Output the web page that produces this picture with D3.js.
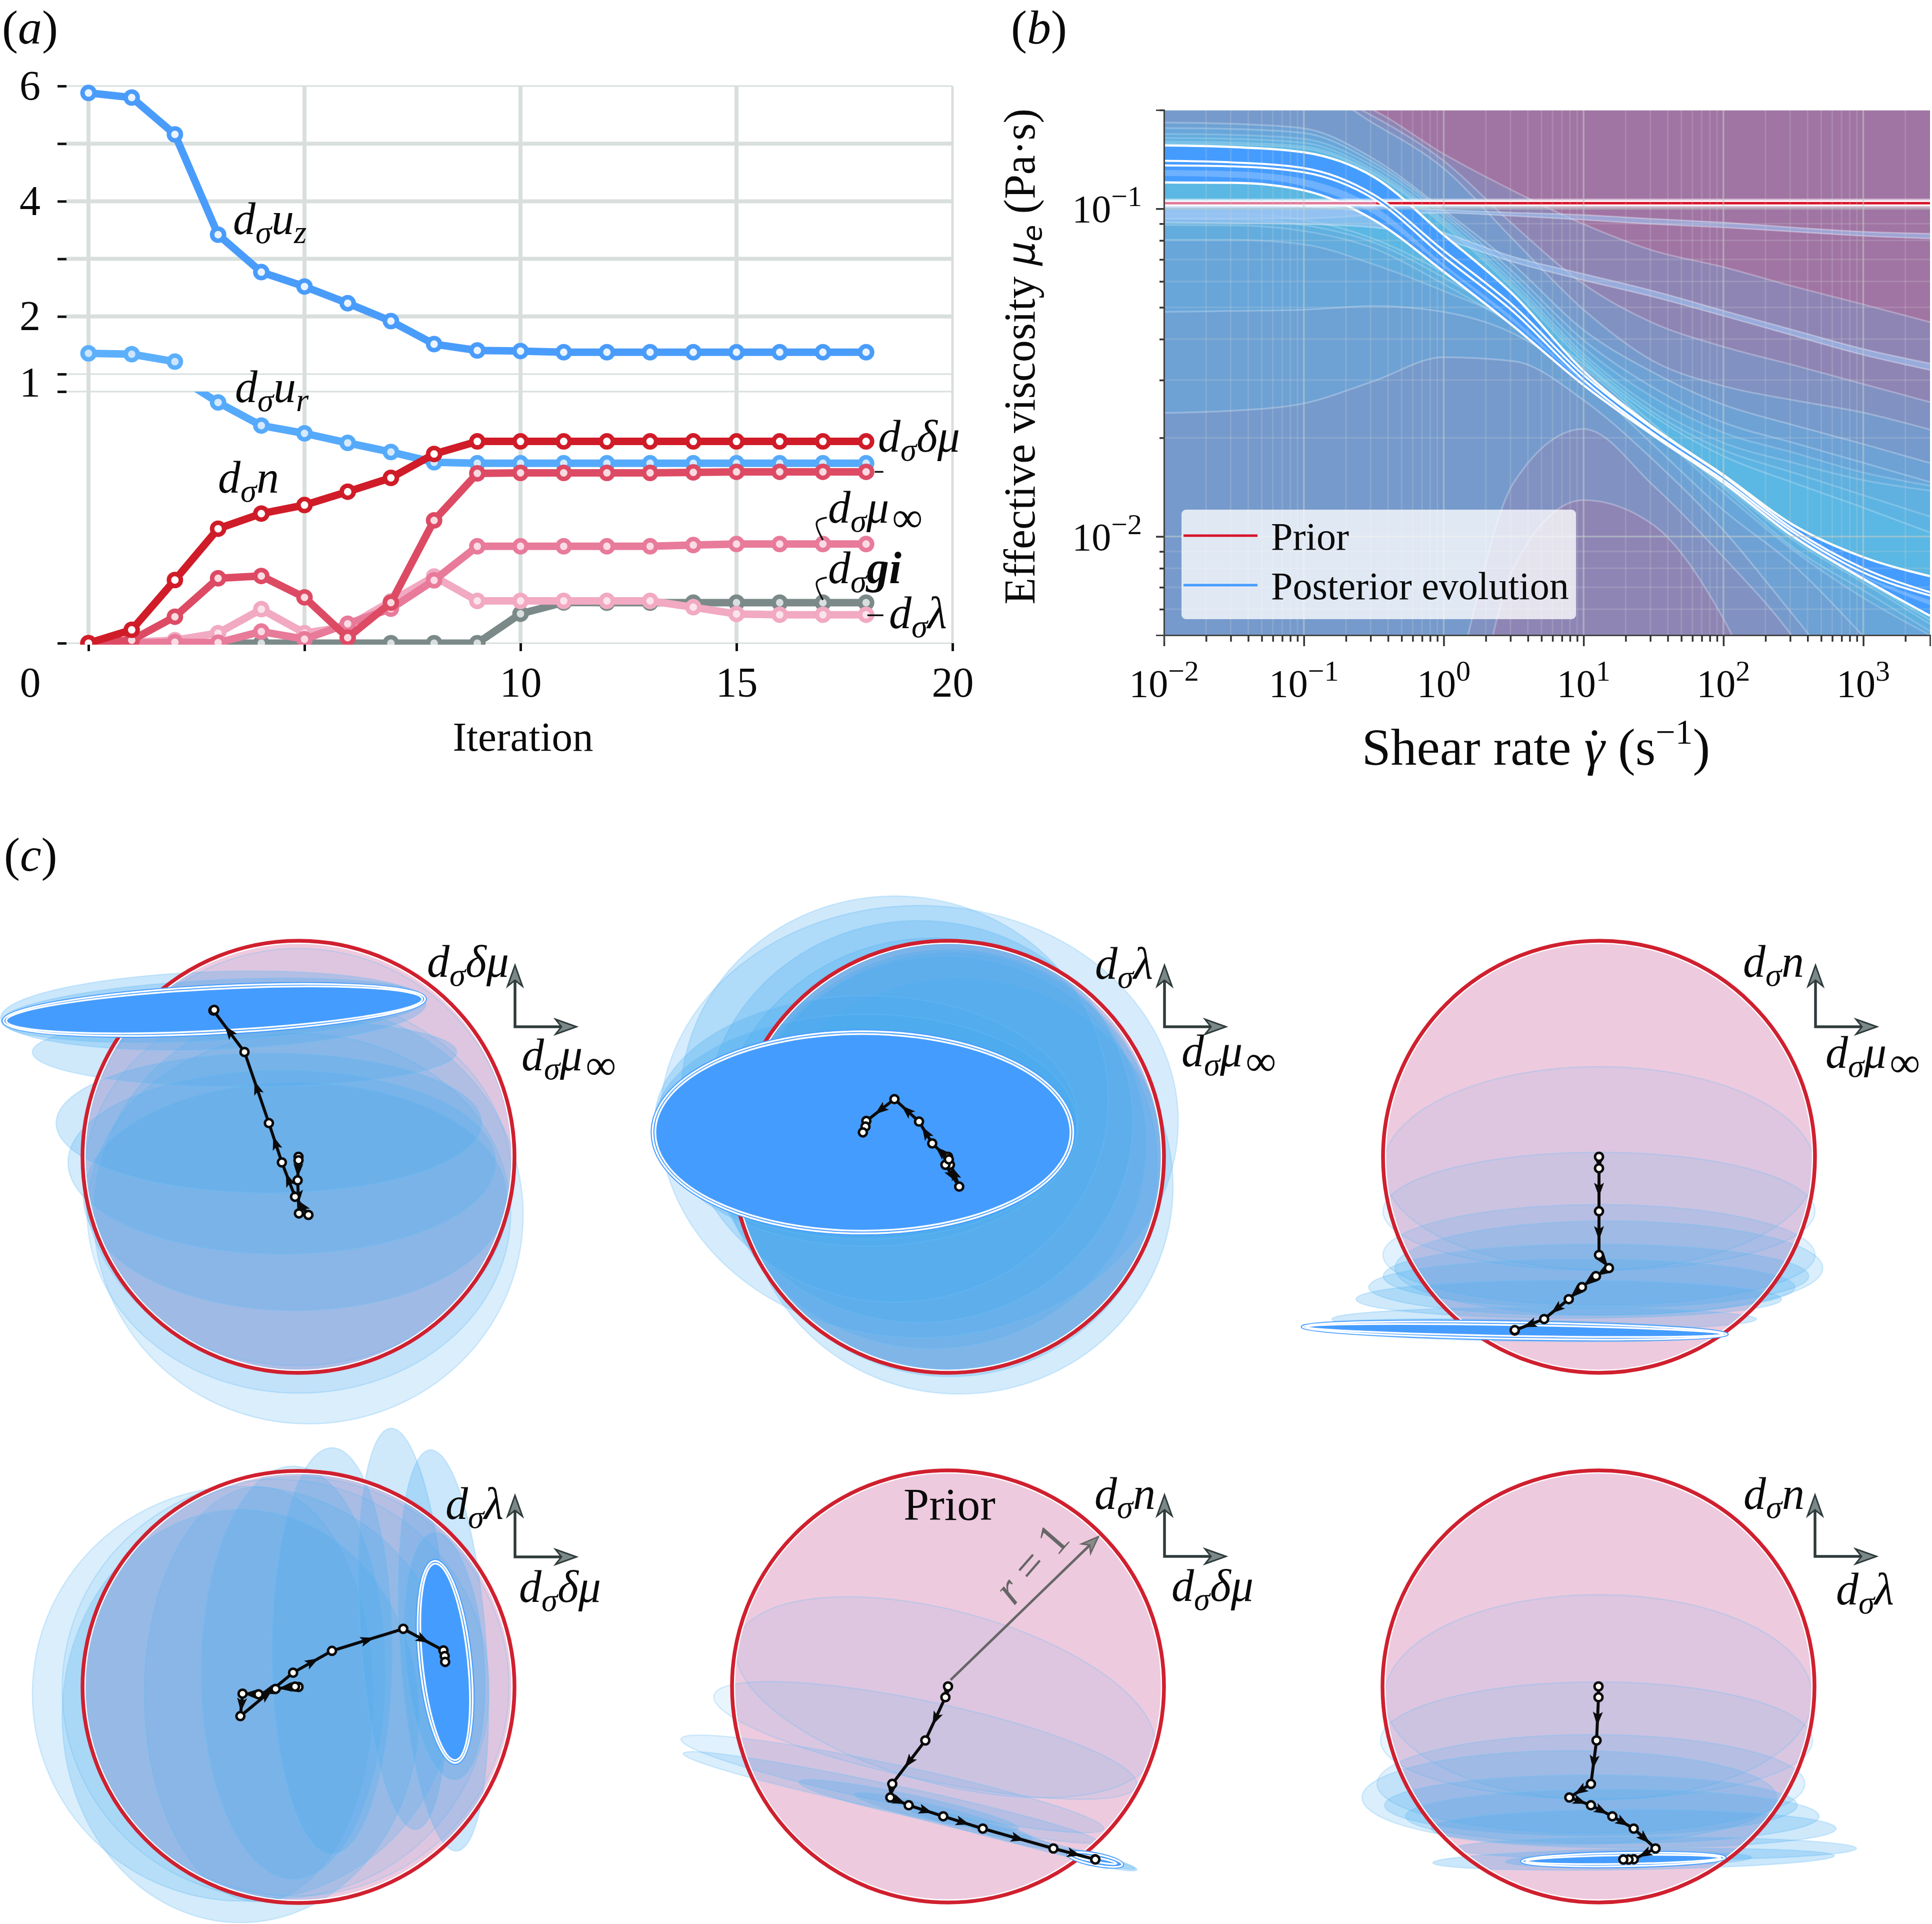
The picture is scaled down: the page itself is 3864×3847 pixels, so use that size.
<!DOCTYPE html>
<html><head><meta charset="utf-8">
<script src="https://cdn.jsdelivr.net/npm/d3@7"></script>
<style>html,body{margin:0;background:#fff}svg{display:block}text{font-family:"Liberation Serif",serif;fill:#0a0a0a}</style>
</head><body><svg id="c" width="3864" height="3847"></svg>
<script>
// ---------- Panel (a) data ----------
const iterations = d3.range(19);
const uz = [5.88,5.80,5.16,3.42,2.77,2.52,2.23,1.92,1.52,1.41,1.40,1.38,1.38,1.38,1.38,1.38,1.38,1.38,1.38];
const urUpper = [1.36,1.345,1.216];
const urLower = [null,null,1.065,0.957,0.865,0.834,0.796,0.760,0.719,0.715,0.715,0.715,0.715,0.715,0.715,0.715,0.715,0.715,0.715];
const seriesN = [0,0.053,0.251,0.455,0.515,0.549,0.602,0.657,0.752,0.802,0.802,0.802,0.802,0.802,0.802,0.802,0.802,0.802,0.802];
const seriesDelta = [0,0.012,0.105,0.258,0.267,0.182,0.022,0.161,0.488,0.675,0.677,0.677,0.677,0.677,0.679,0.681,0.681,0.681,0.681];
const seriesInf = [0,0,0.004,0.002,0.046,0.016,0.077,0.137,0.25,0.385,0.385,0.385,0.385,0.385,0.39,0.394,0.394,0.394,0.394];
const seriesLambda = [0,0.004,0.012,0.04,0.135,0.04,0.067,0.166,0.265,0.168,0.168,0.168,0.168,0.168,0.143,0.116,0.113,0.113,0.113];
const seriesGi = [0,0,0,0,0,0,0,0,0,0,0.117,0.162,0.161,0.161,0.161,0.161,0.161,0.161,0.161];
const xTicksA = [0,5,10,15,20];
const upperTicks = [6,5,4,3,2,1];
const connectorInf = [[17.09,0.499],[16.76,0.489],[17.0,0.41]];
const connectorGi = [[17.09,0.261],[16.76,0.251],[17.0,0.172]];
const dashN = [[18.2,0.681],[18.4,0.681]];
const dashLambda = [[18.03,0.111],[18.4,0.111]];

// ---------- Panel (b) data: log10(viscosity) read at each shear rate ----------
const gammaGrid = [0.01,0.0316,0.1,0.316,1,3.16,10,31.6,100,316,1000,3000];
const priorMu = 0.104;
const deep = [-2.5,-2.5,-2.5,-2.5,-2.5,-2.5,-2.5,-2.5,-2.5,-2.5,-2.5,-2.5];
const curveA = [-.615,-.615,-.625,-.700,-.833,-.946,-1.047,-1.128,-1.178,-1.237,-1.292,-1.346];
const curveB = [-.615,-.615,-.625,-.719,-.854,-1.050,-1.230,-1.349,-1.421,-1.477,-1.535,-1.590];
const curveC = [-.615,-.615,-.625,-.740,-.877,-1.095,-1.308,-1.465,-1.541,-1.584,-1.622,-1.674];
const bumpLow = [-3.72,-3.568,-3.415,-3.262,-2.957,-2.095,-1.889,-1.965,-2.251,-2.728,-3.11,-3.415];
const bumpHigh = [-3.72,-3.568,-3.415,-3.11,-2.576,-1.836,-1.672,-1.845,-2.063,-2.309,-2.652,-2.957];
const u4 = [-.737,-.741,-.755,-.848,-1.004,-1.172,-1.370,-1.500,-1.598,-1.660,-1.718,-1.776];
const l4 = [-1.623,-1.616,-1.594,-1.526,-1.453,-1.465,-1.584,-1.767,-1.981,-2.240,-2.499,-2.652];
const u5 = [-.754,-.757,-.769,-.859,-1.012,-1.195,-1.401,-1.546,-1.652,-1.714,-1.775,-1.834];
const l5 = [-1.315,-1.312,-1.308,-1.297,-1.315,-1.381,-1.523,-1.721,-1.920,-2.087,-2.304,-2.530];
const u6 = [-.772,-.775,-.787,-.870,-1.022,-1.210,-1.424,-1.576,-1.683,-1.744,-1.805,-1.845];
const l6 = [-1.095,-1.095,-1.109,-1.170,-1.251,-1.343,-1.477,-1.675,-1.866,-2.042,-2.187,-2.301];
const u7 = [-.784,-.787,-.799,-.882,-1.034,-1.225,-1.443,-1.607,-1.714,-1.775,-1.828,-1.860];
const l7 = [-1.050,-1.051,-1.068,-1.121,-1.230,-1.355,-1.500,-1.675,-1.851,-2.034,-2.164,-2.289];
const u8 = [-.795,-.798,-.810,-.889,-1.042,-1.236,-1.454,-1.622,-1.736,-1.805,-1.874,-1.939];
const l8 = [-1.031,-1.033,-1.050,-1.103,-1.210,-1.340,-1.485,-1.668,-1.843,-2.011,-2.141,-2.267];
const u9 = [-.801,-.804,-.816,-.894,-1.050,-1.245,-1.465,-1.633,-1.755,-1.836,-1.912,-1.988];
const l9 = [-1.015,-1.016,-1.034,-1.092,-1.195,-1.327,-1.474,-1.657,-1.836,-2.003,-2.133,-2.255];
const strip1Up = [-.992,-.992,-.992,-.993,-1.004,-1.012,-1.019,-1.031,-1.042,-1.057,-1.070,-1.076];
const strip1Lo = [-1.030,-1.030,-1.030,-1.019,-1.013,-1.022,-1.034,-1.047,-1.057,-1.070,-1.083,-1.091];
const strip2Up = [-.989,-.989,-.993,-1.012,-1.073,-1.147,-1.199,-1.251,-1.311,-1.370,-1.428,-1.472];
const strip2Lo = [-1.042,-1.044,-1.047,-1.057,-1.095,-1.163,-1.218,-1.269,-1.327,-1.387,-1.446,-1.492];
const final1 = [-.807,-.812,-.828,-.903,-1.080,-1.263,-1.495,-1.668,-1.812,-1.965,-2.063,-2.121];
const final2 = [-.854,-.859,-.876,-.957,-1.128,-1.297,-1.507,-1.672,-1.816,-1.978,-2.097,-2.170];
const final3 = [-.868,-.871,-.889,-.970,-1.147,-1.315,-1.522,-1.686,-1.828,-1.987,-2.110,-2.180];
const final4 = [-.920,-.921,-.944,-1.034,-1.192,-1.359,-1.538,-1.692,-1.836,-2.000,-2.129,-2.242];
const streakUp = [-.882,-.886,-.909,-.992,-1.169,-1.334,-1.526,-1.687,-1.830,-1.991,-2.118,-2.194];
const streakLo = [-.900,-.905,-.931,-1.016,-1.179,-1.347,-1.530,-1.690,-1.834,-1.994,-2.124,-2.209];
const majorX = [0.01,0.1,1,10,100,1000];
const majorExpX = ["−2","−1","0","1","2","3"];
const majorY = [0.1,0.01];
const majorExpY = ["−1","−2"];

// ---------- Panel (c) data: sigma-scaled paths and ellipses [path index, rx, ry, tilt] ----------
const path1 = [[0,0],[0,-.016],[-.004,-.109],[.002,-.262],[.046,-.269],[-.016,-.185],[-.077,-.026],[-.137,.156],[-.25,.485],[-.394,.677],[-.392,.678],[-.39,.68]];
const ell1 = [[1,.99,.98,0],[2,.99,.857,0],[3,.98,.832,0],[4,.994,.967,0],[5,.98,.526,0],[6,.99,.424,0],[7,.985,.323,0],[8,.982,.161,0],[9,.985,.18,-2],[10,.985,.14,-3]];
const fin1 = [[11,.98,.112,-3],[11,.964,.096,-3]];
const path2 = [[0,0],[.009,-.037],[-.012,-.037],[.052,-.138],[.004,-.012],[-.073,.062],[-.134,.163],[-.248,.267],[-.378,.166],[-.382,.14],[-.394,.113]];
const ell2 = [[1,.98,.98,0],[2,.98,.96,0],[3,.99,.96,0],[4,.98,.97,0],[5,.99,.95,0],[6,1.2,1.0,0],[6,.99,.93,0],[7,.99,.94,0],[8,.98,.58,0],[9,.98,.52,0]];
const fin2 = [[10,.977,.471,0],[10,.961,.455,0]];
const path3 = [[0,0],[0,-.053],[0,-.252],[0,-.454],[.046,-.515],[-.014,-.552],[-.079,-.603],[-.14,-.659],[-.254,-.751],[-.39,-.803],[-.39,-.804],[-.39,-.802]];
const ell3 = [[1,1,.47,0],[2,1,.273,0],[3,1,.233,0],[4,.99,.218,0],[5,.985,.148,0],[6,.987,.13,0],[7,.985,.088,0],[8,.983,.055,0],[9,.985,.05,1]];
const fin3 = [[10,.985,.041,1],[10,.965,.025,1]];
const path4 = [[0,0],[-.016,.002],[-.106,-.009],[-.185,-.034],[-.259,-.031],[-.269,-.135],[-.025,.066],[.155,.167],[.485,.269],[.671,.169],[.677,.143],[.679,.116]];
const ell4 = [[1,.99,.97,0],[2,.988,.97,0],[3,.528,.96,0],[4,.973,.96,0],[5,.825,.956,0],[6,.426,.956,0],[7,.278,.94,0],[8,.2,.93,-3.6],[9,.2,.93,-3.8],[10,.182,.574,-5]];
const fin4 = [[11,.121,.473,-6],[11,.105,.457,-6]];
const path5 = [[0,0],[-.012,-.05],[-.105,-.25],[-.258,-.451],[-.267,-.514],[-.182,-.55],[-.022,-.601],[.161,-.658],[.488,-.75],[.681,-.8],[.682,-.801]];
const ell5 = [[1,1,.40,15],[2,1,.18,12],[3,1,.09,12],[4,.98,.06,12],[5,.52,.05,12],[6,.424,.04,14],[7,.36,.03,15],[8,.39,.022,14],[9,.2,.024,14]];
const fin5 = [[10,.13,.028,11],[10,.1,.01,11]];
const path6 = [[0,0],[0,-.05],[-.009,-.25],[-.035,-.451],[-.135,-.514],[-.035,-.55],[.064,-.601],[.163,-.658],[.264,-.75],[.163,-.8],[.139,-.801],[.115,-.801]];
const ell6 = [[1,.99,.475,0],[2,1,.271,0],[3,.99,.228,0],[4,.96,.217,0],[5,.955,.14,0],[6,.957,.125,0],[7,.937,.089,0],[8,.93,.053,0],[9,.93,.048,-1],[10,.57,.036,-1]];
const fin6 = [[11,.473,.034,-1],[11,.45,.02,-1]];
const radiusArrow = [[.012,.03],[.696,.693]];
const layerAlpha = [.09,.12,.16,.2,.24,.24,.26,.26,.28,.28];
const layerAlphaStrong = [.22,.22,.24,.24,.24,.22,.26,.26,.28,.28];

const svg = d3.select("#c");
const defs = svg.append("defs");
const MS = 90;
function math(g,x,y,tokens,size){
  const t=g.append("text").attr("x",x).attr("y",y).attr("font-size",size).attr("font-style","italic");
  let sub=false; const off=Math.round(size*.2);
  tokens.forEach(tok=>{
    let s=tok, isSub=false, bold=false;
    if(s[0]==="_"){isSub=true;s=s.slice(1);}
    if(s[0]==="*"){bold=true;s=s.slice(1);}
    const ts=t.append("tspan").text(s);
    if(isSub) ts.attr("font-size",size*.72);
    if(bold) ts.attr("font-weight","bold");
    if(s==="∞") ts.attr("font-style","normal").attr("dx",6).attr("font-size",size*.95);
    if(isSub&&!sub) ts.attr("dy",off);
    if(!isSub&&sub) ts.attr("dy",-off);
    sub=isSub;
  });
  return t;
}
function panelTag(x,y,l){
  const t=svg.append("text").attr("x",x).attr("y",y).attr("font-size",96);
  t.append("tspan").text("(");t.append("tspan").attr("font-style","italic").text(l);t.append("tspan").text(")");
}
panelTag(4,87,"a");panelTag(2022,87,"b");panelTag(8,1741,"c");

// ---------- Panel (a) ----------
(function(){
  const g=svg.append("g");
  const x=d3.scaleLinear().domain([0,20]).range([177,1905]);
  const yU=d3.scaleLinear().domain([1,6]).range([748,172]);
  const yL=d3.scaleLinear().domain([0,1]).range([1286,783]);
  defs.append("clipPath").attr("id","cu").append("rect").attr("x",120).attr("y",150).attr("width",1800).attr("height",598);
  defs.append("clipPath").attr("id","cl").append("rect").attr("x",120).attr("y",783).attr("width",1800).attr("height",506);
  const grid="#d8dfdd";
  xTicksA.forEach(v=>g.append("line").attr("x1",x(v)).attr("x2",x(v)).attr("y1",yU(6)).attr("y2",yL(0)).attr("stroke",grid).attr("stroke-width",v===20?5:8));
  upperTicks.forEach(v=>g.append("line").attr("x1",133).attr("x2",x(20)).attr("y1",yU(v)).attr("y2",yU(v)).attr("stroke",grid).attr("stroke-width",(v===1||v===6)?3:8));
  [0,1].forEach(v=>g.append("line").attr("x1",133).attr("x2",x(20)).attr("y1",yL(v)).attr("y2",yL(v)).attr("stroke",grid).attr("stroke-width",3));
  const ax1=g.append("g").attr("transform","translate(133,0)").call(d3.axisLeft(yU).tickValues(upperTicks).tickSize(18).tickFormat(d=>d%2===0||d===1?d:""));
  const ax2=g.append("g").attr("transform","translate(133,0)").call(d3.axisLeft(yL).tickValues([0,1]).tickSize(18).tickFormat(""));
  const ax3=g.append("g").attr("transform","translate(0,1286)").call(d3.axisBottom(x).tickValues(xTicksA).tickSize(16).tickFormat(d=>d===5?"":d));
  [ax1,ax2,ax3].forEach(a=>{a.select(".domain").remove();a.selectAll("line").attr("stroke","#111").attr("stroke-width",5);
    a.selectAll("text").attr("font-size",84).attr("font-family","Liberation Serif").attr("fill","#0a0a0a");});
  ax1.selectAll("text").attr("text-anchor","middle").attr("x",-73).attr("dy",null).attr("y",27);
  ax1.selectAll(".tick").filter(d=>d===1).select("text").attr("y",44);
  ax3.selectAll("text").attr("y",107).attr("dy",null);
  ax3.selectAll(".tick").filter(d=>d===0).select("text").attr("x",-117);
  g.append("text").attr("x",1046).attr("y",1501).attr("text-anchor","middle").attr("font-size",83).text("Iteration");

  const lineU=d3.line().x((d,i)=>x(i)).y(d=>yU(d));
  const lineL=d3.line().defined(d=>d!==null).x((d,i)=>x(i)).y(d=>yL(d));
  function series(vals,scale,gen,col,fill,clip,first){
    const sg=g.append("g").attr("clip-path",`url(#${clip})`);
    sg.append("path").attr("d",gen(vals)).attr("fill","none").attr("stroke",col).attr("stroke-width",15).attr("stroke-linejoin","round");
    sg.selectAll("circle").data(vals.map((v,i)=>[i,v]).filter(d=>d[1]!==null&&d[0]>=(first||0))).join("circle")
      .attr("cx",d=>x(d[0])).attr("cy",d=>scale(d[1])).attr("r",12).attr("fill",fill).attr("stroke",col).attr("stroke-width",9);
  }
  series(uz,yU,lineU,"#4a9cfb","#eaf4ff","cu");
  series(urUpper,yU,lineU,"#5cb0fb","#cde6fe","cu");
  series(urLower,yL,lineL,"#56aafb","#d5eaff","cl",3);
  series(seriesGi,yL,lineL,"#7b8a88","#d9dfde","cl");
  series(seriesLambda,yL,lineL,"#f2a9c2","#fbe4ec","cl");
  series(seriesInf,yL,lineL,"#e87a9a","#fbdbe5","cl");
  series(seriesDelta,yL,lineL,"#dd4a64","#f9dbe1","cl");
  series(seriesN,yL,lineL,"#d01c28","#ffffff","cl");
  const conn=d3.line().x(d=>x(d[0])).y(d=>yL(d[1])).curve(d3.curveBasis);
  [connectorInf,connectorGi,dashN,dashLambda].forEach(c=>g.append("path").attr("d",conn(c)).attr("fill","none").attr("stroke","#111").attr("stroke-width",3.5));
  math(g,466,468,["d","_σ","u","_z"],MS);
  math(g,470,804,["d","_σ","u","_r"],MS);
  math(g,436,985,["d","_σ","n"],MS);
  math(g,1756,903,["d","_σ","δμ"],MS);
  math(g,1656,1045,["d","_σ","μ","_∞"],MS);
  math(g,1656,1166,["d","_σ","*gi"],MS);
  math(g,1778,1256,["d","_σ","λ"],MS);
})();

// ---------- Panel (b) ----------
(function(){
  const g=svg.append("g");
  const x=d3.scaleLog().domain([0.01,3000]).range([2328,3860]);
  const y=d3.scaleLog().domain([0.005,0.2]).range([1270,220]);
  defs.append("clipPath").attr("id","cb").append("rect").attr("x",2328).attr("y",220).attr("width",1532).attr("height",1050);
  const plot=g.append("g").attr("clip-path","url(#cb)");
  plot.append("rect").attr("x",2328).attr("y",220).attr("width",1532).attr("height",1050).attr("fill","#a074a3");
  const pts=a=>a.map((l,i)=>[gammaGrid[i],Math.pow(10,l)]);
  const area=(up,lo)=>d3.area().x((d,i)=>x(gammaGrid[i])).y0((d,i)=>y(Math.pow(10,lo[i]))).y1((d,i)=>y(Math.pow(10,up[i]))).curve(d3.curveMonotoneX)(up);
  const line=a=>d3.line().x(d=>x(d[0])).y(d=>y(d[1])).curve(d3.curveMonotoneX)(pts(a));
  function band(up,lo,fill,op,edge,ew){
    plot.append("path").attr("d",area(up,lo)).attr("fill",fill).attr("fill-opacity",op);
    if(edge)[up,lo].forEach(c=>plot.append("path").attr("d",line(c)).attr("fill","none").attr("stroke",edge).attr("stroke-opacity",ew[0]).attr("stroke-width",ew[1]));
  }
  const bl="#56b8ea", teal="#5abce6";
  band(curveA,deep,bl,.25,"#fff",[.26,3.5]);
  band(curveB,bumpLow,bl,.25,"#fff",[.26,3.5]);
  band(curveC,bumpHigh,bl,.25,"#fff",[.26,3.5]);
  band(u4,l4,bl,.25,"#fff",[.26,3.5]);
  band(u5,l5,bl,.25,"#fff",[.24,3.5]);
  band(u6,l6,teal,.32,"#fff",[.2,3.5]);
  band(u7,l7,teal,.32,"#fff",[.2,3.5]);
  band(u8,l8,teal,.36,"#fff",[.2,3.5]);
  band(u9,l9,teal,.36,"#fff",[.22,3.5]);
  band(strip1Up,strip1Lo,"#9fc4f5",.6,"#fff",[.32,3]);
  band(strip2Up,strip2Lo,"#9fc4f5",.6,"#fff",[.32,3]);
  band(final1,final3,"#459cff",1);
  band(final2,final4,"#459cff",1);
  band(streakUp,streakLo,"#ffffff",.22);
  [final1,final4].forEach(c=>plot.append("path").attr("d",line(c)).attr("fill","none").attr("stroke","#fff").attr("stroke-width",4.5));
  const py=y(priorMu);
  plot.append("line").attr("x1",2328).attr("x2",3860).attr("y1",py).attr("y2",py).attr("stroke","#ffffff").attr("stroke-opacity",.55).attr("stroke-width",18);
  plot.append("line").attr("x1",2328).attr("x2",3860).attr("y1",py).attr("y2",py).attr("stroke","#ffffff").attr("stroke-width",11);
  plot.append("line").attr("x1",x(0.01)).attr("x2",x(0.33)).attr("y1",py).attr("y2",py).attr("stroke","#e07a9c").attr("stroke-width",5);
  plot.append("line").attr("x1",x(0.33)).attr("x2",x(3000)).attr("y1",py).attr("y2",py).attr("stroke","#d7142c").attr("stroke-width",5);
  band(final2,final3,"#459cff",1);
  [final2,final3].forEach(c=>plot.append("path").attr("d",line(c)).attr("fill","none").attr("stroke","#fff").attr("stroke-width",4));
  const minorX=[];for(let e=-2;e<4;e++)for(let m=2;m<10;m++){const v=m*Math.pow(10,e);if(v<3000)minorX.push(v);}
  const minorY=[0.006,0.007,0.008,0.009,0.02,0.03,0.04,0.05,0.06,0.07,0.08,0.09,0.2];
  const gridG=g.append("g");
  minorX.forEach(v=>gridG.append("line").attr("x1",x(v)).attr("x2",x(v)).attr("y1",220).attr("y2",1270).attr("stroke","#d5dcd8").attr("stroke-opacity",.2).attr("stroke-width",3));
  minorY.forEach(v=>gridG.append("line").attr("x1",2328).attr("x2",3860).attr("y1",y(v)).attr("y2",y(v)).attr("stroke","#d5dcd8").attr("stroke-opacity",.2).attr("stroke-width",3));
  majorX.forEach(v=>gridG.append("line").attr("x1",x(v)).attr("x2",x(v)).attr("y1",220).attr("y2",1270).attr("stroke","#c3cdc6").attr("stroke-opacity",.55).attr("stroke-width",3.5));
  majorY.forEach(v=>gridG.append("line").attr("x1",2328).attr("x2",3860).attr("y1",y(v)).attr("y2",y(v)).attr("stroke","#c3cdc6").attr("stroke-opacity",.55).attr("stroke-width",3.5));
  gridG.append("rect").attr("x",2328).attr("y",218).attr("width",1532).attr("height",3).attr("fill","#fff").attr("fill-opacity",.6);
  const axX=g.append("g").attr("transform","translate(0,1270)").call(d3.axisBottom(x).tickValues(majorX).tickSize(22).tickFormat(""));
  const axXm=g.append("g").attr("transform","translate(0,1270)").call(d3.axisBottom(x).tickValues(minorX).tickSize(13).tickFormat(""));
  const axY=g.append("g").attr("transform","translate(2328,0)").call(d3.axisLeft(y).tickValues(majorY).tickSize(16).tickFormat(""));
  const axYm=g.append("g").attr("transform","translate(2328,0)").call(d3.axisLeft(y).tickValues(minorY).tickSize(9).tickFormat(""));
  [axX,axXm,axY,axYm].forEach(a=>{a.selectAll("line").attr("stroke","#333").attr("stroke-width",3.5);a.select(".domain").attr("stroke","#444").attr("stroke-width",3);});
  function pow(xp,yp,exp,anchor){
    const t=g.append("text").attr("x",xp).attr("y",yp).attr("font-size",78).attr("text-anchor",anchor);
    t.append("tspan").text("10");t.append("tspan").attr("font-size",58).attr("dy",-32).text(exp);
  }
  majorX.forEach((v,i)=>pow(x(v),1393,majorExpX[i],"middle"));
  majorY.forEach((v,i)=>pow(2284,y(v)+27,majorExpY[i],"end"));
  const xl=g.append("text").attr("x",3072).attr("y",1529).attr("text-anchor","middle").attr("font-size",104);
  xl.append("tspan").text("Shear rate ");xl.append("tspan").attr("font-style","italic").text("γ");
  xl.append("tspan").attr("dx",-38).text("˙");xl.append("tspan").attr("dx",4).text("  (s");
  xl.append("tspan").attr("font-size",70).attr("dy",-42).text("−1");xl.append("tspan").attr("dy",42).text(")");
  const yl=g.append("text").attr("transform","translate(2069,713) rotate(-90)").attr("text-anchor","middle").attr("font-size",88);
  yl.append("tspan").text("Effective viscosity ");
  yl.append("tspan").attr("font-family","DejaVu Sans").attr("font-style","italic").attr("font-size",76).text("μ");
  yl.append("tspan").attr("font-family","DejaVu Sans").attr("font-style","italic").attr("font-size",54).attr("dy",14).text("e");
  yl.append("tspan").attr("dy",-14).text(" (Pa·s)");
  const lg=g.append("g");
  lg.append("rect").attr("x",2363).attr("y",1019).attr("width",789).attr("height",219).attr("rx",9).attr("fill","#fff").attr("fill-opacity",.77);
  lg.append("line").attr("x1",2367).attr("x2",2515).attr("y1",1071).attr("y2",1071).attr("stroke","#d7142c").attr("stroke-width",5);
  lg.append("line").attr("x1",2367).attr("x2",2515).attr("y1",1170).attr("y2",1170).attr("stroke","#459cff").attr("stroke-width",5);
  lg.append("text").attr("x",2542).attr("y",1099).attr("font-size",78).text("Prior");
  lg.append("text").attr("x",2542).attr("y",1198).attr("font-size",78).text("Posterior evolution");
})();

// ---------- Panel (c) ----------
const panels=[
 {cx:597,cy:2313,path:path1,ell:ell1,fin:fin1,alpha:layerAlpha,top:["d","_σ","δμ"],tx:854,ty:1953,bot:["d","_σ","μ","_∞"],bx:1043,by:2140},
 {cx:1896,cy:2313,path:path2,ell:ell2,fin:fin2,alpha:layerAlphaStrong,top:["d","_σ","λ"],tx:2190,ty:1957,bot:["d","_σ","μ","_∞"],bx:2363,by:2132},
 {cx:3198,cy:2313,path:path3,ell:ell3,fin:fin3,alpha:layerAlpha,top:["d","_σ","n"],tx:3486,ty:1953,bot:["d","_σ","μ","_∞"],bx:3651,by:2135},
 {cx:597,cy:3373,path:path4,ell:ell4,fin:fin4,alpha:layerAlpha,top:["d","_σ","λ"],tx:891,ty:3037,bot:["d","_σ","δμ"],bx:1038,by:3203},
 {cx:1896,cy:3372,path:path5,ell:ell5,fin:fin5,alpha:layerAlpha,top:["d","_σ","n"],tx:2189,ty:3017,bot:["d","_σ","δμ"],bx:2343,by:3201,prior:true},
 {cx:3197,cy:3372,path:path6,ell:ell6,fin:fin6,alpha:layerAlpha,top:["d","_σ","n"],tx:3487,ty:3017,bot:["d","_σ","λ"],bx:3672,by:3208}
];
const R=432;
panels.forEach(p=>{
  const g=svg.append("g");
  const sx=d3.scaleLinear().domain([-1,1]).range([p.cx-R,p.cx+R]);
  const sy=d3.scaleLinear().domain([-1,1]).range([p.cy+R,p.cy-R]);
  g.append("circle").attr("cx",sx(0)).attr("cy",sy(0)).attr("r",R).attr("fill","#eecade");
  const ellipse=(sel,e)=>{
    const c=p.path[e[0]];
    sel.attr("cx",0).attr("cy",0).attr("rx",e[1]*R).attr("ry",e[2]*R)
      .attr("transform",`translate(${sx(c[0])},${sy(c[1])}) rotate(${e[3]})`);
  };
  g.selectAll(".e").data(p.ell).join("ellipse").attr("class","e").each(function(e){ellipse(d3.select(this),e);})
    .attr("fill","#46aaf0").attr("fill-opacity",(e,i)=>p.alpha[i]).attr("stroke","#6cc0f5").attr("stroke-opacity",.3).attr("stroke-width",2.5);
  g.append("circle").attr("cx",sx(0)).attr("cy",sy(0)).attr("r",R-5).attr("fill","none").attr("stroke","#fff").attr("stroke-width",2.5);
  g.append("circle").attr("cx",sx(0)).attr("cy",sy(0)).attr("r",R).attr("fill","none").attr("stroke","#d0202f").attr("stroke-width",7.5);
  p.fin.forEach((e,i)=>{
    const el=g.append("ellipse");ellipse(el,e);
    el.attr("fill","#459cff").attr("stroke",i===0?"#459cff":"#fff").attr("stroke-width",i===0?5:3.5);
    if(i===0){const el2=g.append("ellipse");ellipse(el2,[e[0],Math.max(e[1]-.003,0),Math.max(e[2]-.003,0),e[3]]);el2.attr("fill","none").attr("stroke","#fff").attr("stroke-width",3.5);}
  });
  if(p.prior){
    const a=radiusArrow;
    g.append("line").attr("x1",sx(a[0][0])).attr("y1",sy(a[0][1])).attr("x2",sx(a[1][0])-10).attr("y2",sy(a[1][1])+10).attr("stroke","#666").attr("stroke-width",5);
    const ang=Math.atan2(sy(a[1][1])-sy(a[0][1]),sx(a[1][0])-sx(a[0][0]))*180/Math.PI;
    g.append("path").attr("d","M0,0L-34,-13L-24,0L-34,13Z").attr("transform",`translate(${sx(a[1][0])},${sy(a[1][1])}) rotate(${ang})`).attr("fill","#8a8a8a").attr("stroke","#666").attr("stroke-width",3);
    const rt=g.append("text").attr("transform","translate(2085,3146) rotate(-49)").attr("text-anchor","middle").attr("font-size",90).style("fill","#666");
    rt.append("tspan").attr("font-style","italic").text("r");rt.append("tspan").text(" = 1");
    g.append("text").attr("x",1899).attr("y",3039).attr("text-anchor","middle").attr("font-size",92).text("Prior");
  }
  const ln=d3.line().x(d=>sx(d[0])).y(d=>sy(d[1]));
  g.append("path").attr("d",ln(p.path)).attr("fill","none").attr("stroke","#0a0a0a").attr("stroke-width",6);
  p.path.slice(1).forEach((d,i)=>{
    const a=p.path[i],x1=sx(a[0]),y1=sy(a[1]),x2=sx(d[0]),y2=sy(d[1]);
    const L=Math.hypot(x2-x1,y2-y1);if(L<22)return;
    g.append("path").attr("d","M14,0L-14,-10L-8,0L-14,10Z").attr("fill","#0a0a0a")
      .attr("transform",`translate(${(x1+x2)/2},${(y1+y2)/2}) rotate(${Math.atan2(y2-y1,x2-x1)*180/Math.PI})`);
  });
  g.selectAll(".m").data(p.path).join("circle").attr("class","m").attr("cx",d=>sx(d[0])).attr("cy",d=>sy(d[1])).attr("r",8).attr("fill","#fffdf5").attr("stroke","#0a0a0a").attr("stroke-width",5);
  const ox=p.cx+433, oy=p.cy-260, len=123;
  g.append("path").attr("d",`M${ox},${oy-len+8}L${ox},${oy}L${ox+len-8},${oy}`).attr("fill","none").attr("stroke","#2f3b3b").attr("stroke-width",5.5);
  g.append("path").attr("d",`M0,0L-42,-15L-30,0L-42,15Z`).attr("transform",`translate(${ox},${oy-len}) rotate(-90)`).attr("fill","#7a8888").attr("stroke","#2f3b3b").attr("stroke-width",3);
  g.append("path").attr("d",`M0,0L-42,-15L-30,0L-42,15Z`).attr("transform",`translate(${ox+len},${oy})`).attr("fill","#7a8888").attr("stroke","#2f3b3b").attr("stroke-width",3);
  math(g,p.tx,p.ty,p.top,MS);
  math(g,p.bx,p.by,p.bot,MS);
});
</script></body></html>
